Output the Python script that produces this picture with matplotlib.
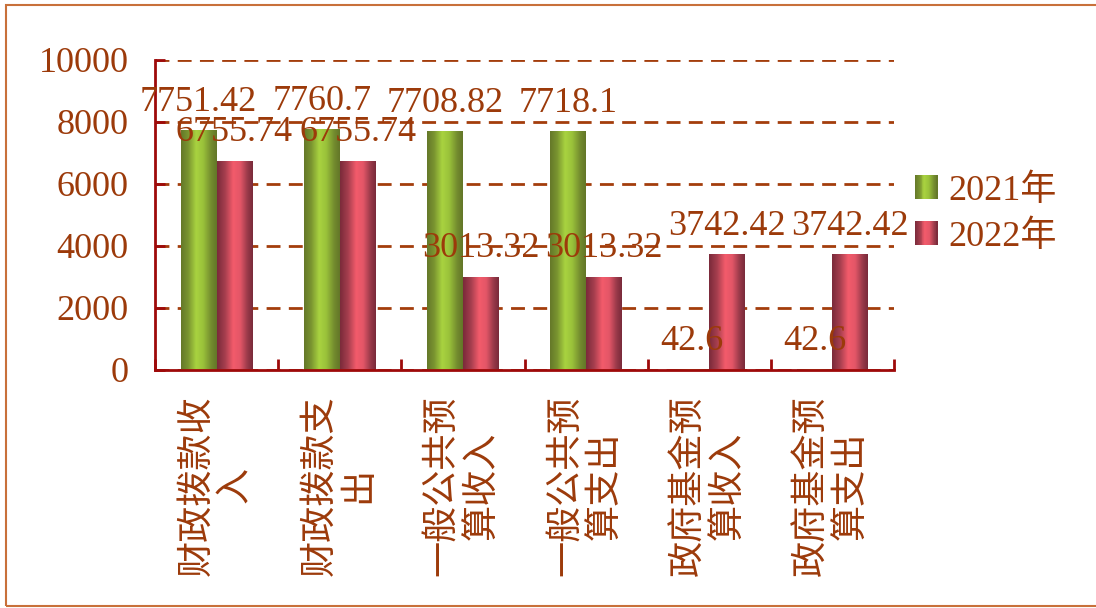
import numpy as np
import matplotlib.pyplot as plt
from matplotlib.colors import LinearSegmentedColormap
from matplotlib.patches import Patch, Rectangle
from matplotlib.legend_handler import HandlerBase

# data
categories = ['财政拨款收\n入', '财政拨款支\n出', '一般公共预\n算收入',
              '一般公共预\n算支出', '政府基金预\n算收入', '政府基金预\n算支出']
values_2021 = [7751.42, 7760.7, 7708.82, 7718.1, 42.6, 42.6]
values_2022 = [6755.74, 6755.74, 3013.32, 3013.32, 3742.42, 3742.42]
series_names = ['2021年', '2022年']
yticks = [0, 2000, 4000, 6000, 8000, 10000]

text_color = '#9C3A0A'
axis_color = '#9E0A0A'
grid_color = '#A33D0C'

green = LinearSegmentedColormap.from_list('green', [
    (0.0, '#657829'), (0.2, '#7A9530'), (0.42, '#A9D340'),
    (0.62, '#9AC23A'), (0.85, '#728A2E'), (1.0, '#637628')])
red = LinearSegmentedColormap.from_list('red', [
    (0.0, '#7A2A3A'), (0.22, '#A53E4E'), (0.45, '#F35B6B'),
    (0.65, '#E35667'), (0.85, '#9A3A4A'), (1.0, '#792A3A')])

plt.rcParams['font.family'] = ['Liberation Serif', 'Noto Sans CJK SC']

fig = plt.figure(figsize=(10.96, 6.08), dpi=100)
ax = fig.add_axes([155 / 1096, 1 - 370 / 608, (894 - 155) / 1096, (370 - 60) / 608])

x = np.arange(len(categories))
w = 0.29
bars1 = ax.bar(x - w / 2, values_2021, w, color=green(0.4), zorder=2)
bars2 = ax.bar(x + w / 2, values_2022, w, color=red(0.45), zorder=2)


def shade(bars, cmap):
    # cylinder-like horizontal gradient, clipped to each bar
    grad = np.linspace(0, 1, 128).reshape(1, -1)
    for bar in bars:
        x0, y0 = bar.get_xy()
        im = ax.imshow(grad, extent=[x0, x0 + bar.get_width(), y0, y0 + bar.get_height()],
                       cmap=cmap, aspect='auto', zorder=2.5, interpolation='bilinear')
        im.set_clip_path(bar)


shade(bars1, green)
shade(bars2, red)

for bars, vals in [(bars1, values_2021), (bars2, values_2022)]:
    for bar, v in zip(bars, vals):
        ax.annotate(str(v), (bar.get_x() + bar.get_width() / 2, bar.get_height()),
                    xytext=(0, 8), textcoords='offset points', ha='center', va='bottom',
                    fontsize=26, color=text_color, zorder=4)

ax.set_xlim(-0.5, len(categories) - 0.5)
ax.set_ylim(0, 10000)
ax.set_aspect('auto')

ax.set_yticks(yticks)
ax.set_yticklabels([str(t) for t in yticks])
ax.set_xticks(x)
ax.set_xticklabels(categories, rotation=90, ha='center', va='top', multialignment='center')
ax.set_xticks(np.arange(-0.5, len(categories), 1), minor=True)

ax.tick_params(axis='y', direction='in', length=7, width=2, color=axis_color,
               labelsize=26, labelcolor=text_color, pad=19)
ax.tick_params(axis='x', which='major', length=0, labelsize=26, labelcolor=text_color, pad=18)
ax.tick_params(axis='x', which='minor', direction='in', length=8, width=2, color=axis_color)

for side in ['top', 'right']:
    ax.spines[side].set_visible(False)
for side in ['left', 'bottom']:
    ax.spines[side].set_color(axis_color)
    ax.spines[side].set_linewidth(2)

ax.set_axisbelow(True)
ax.yaxis.grid(True, linestyle=(0, (5, 3)), linewidth=2, color=grid_color)
ax.xaxis.grid(False)


class GradientHandler(HandlerBase):
    def __init__(self, cmap):
        super().__init__()
        self.cmap = cmap

    def create_artists(self, legend, orig_handle, xdescent, ydescent, width, height, fontsize, trans):
        n = 24
        arts = []
        for i in range(n):
            r = Rectangle((-xdescent + width * i / n, -ydescent), width / n + 0.3, height,
                          facecolor=self.cmap((i + 0.5) / n), edgecolor='none', transform=trans)
            arts.append(r)
        return arts


h1 = Patch(facecolor=green(0.4))
h2 = Patch(facecolor=red(0.45))
fig.legend([h1, h2], series_names, handler_map={h1: GradientHandler(green), h2: GradientHandler(red)},
           loc='center left', bbox_to_anchor=(915 / 1096, 1 - 214 / 608), frameon=False,
           borderpad=0, borderaxespad=0, handlelength=0.62, handleheight=0.62,
           handletextpad=0.3, labelspacing=0.35, prop={'size': 26}, labelcolor=text_color)

# outer chart border
fig.add_artist(Rectangle((6 / 1096, 2 / 608), 1.1, 1 - 7 / 608, transform=fig.transFigure,
                         fill=False, edgecolor='#C8703A', linewidth=1.5))

fig.savefig('out.png', dpi=100)
